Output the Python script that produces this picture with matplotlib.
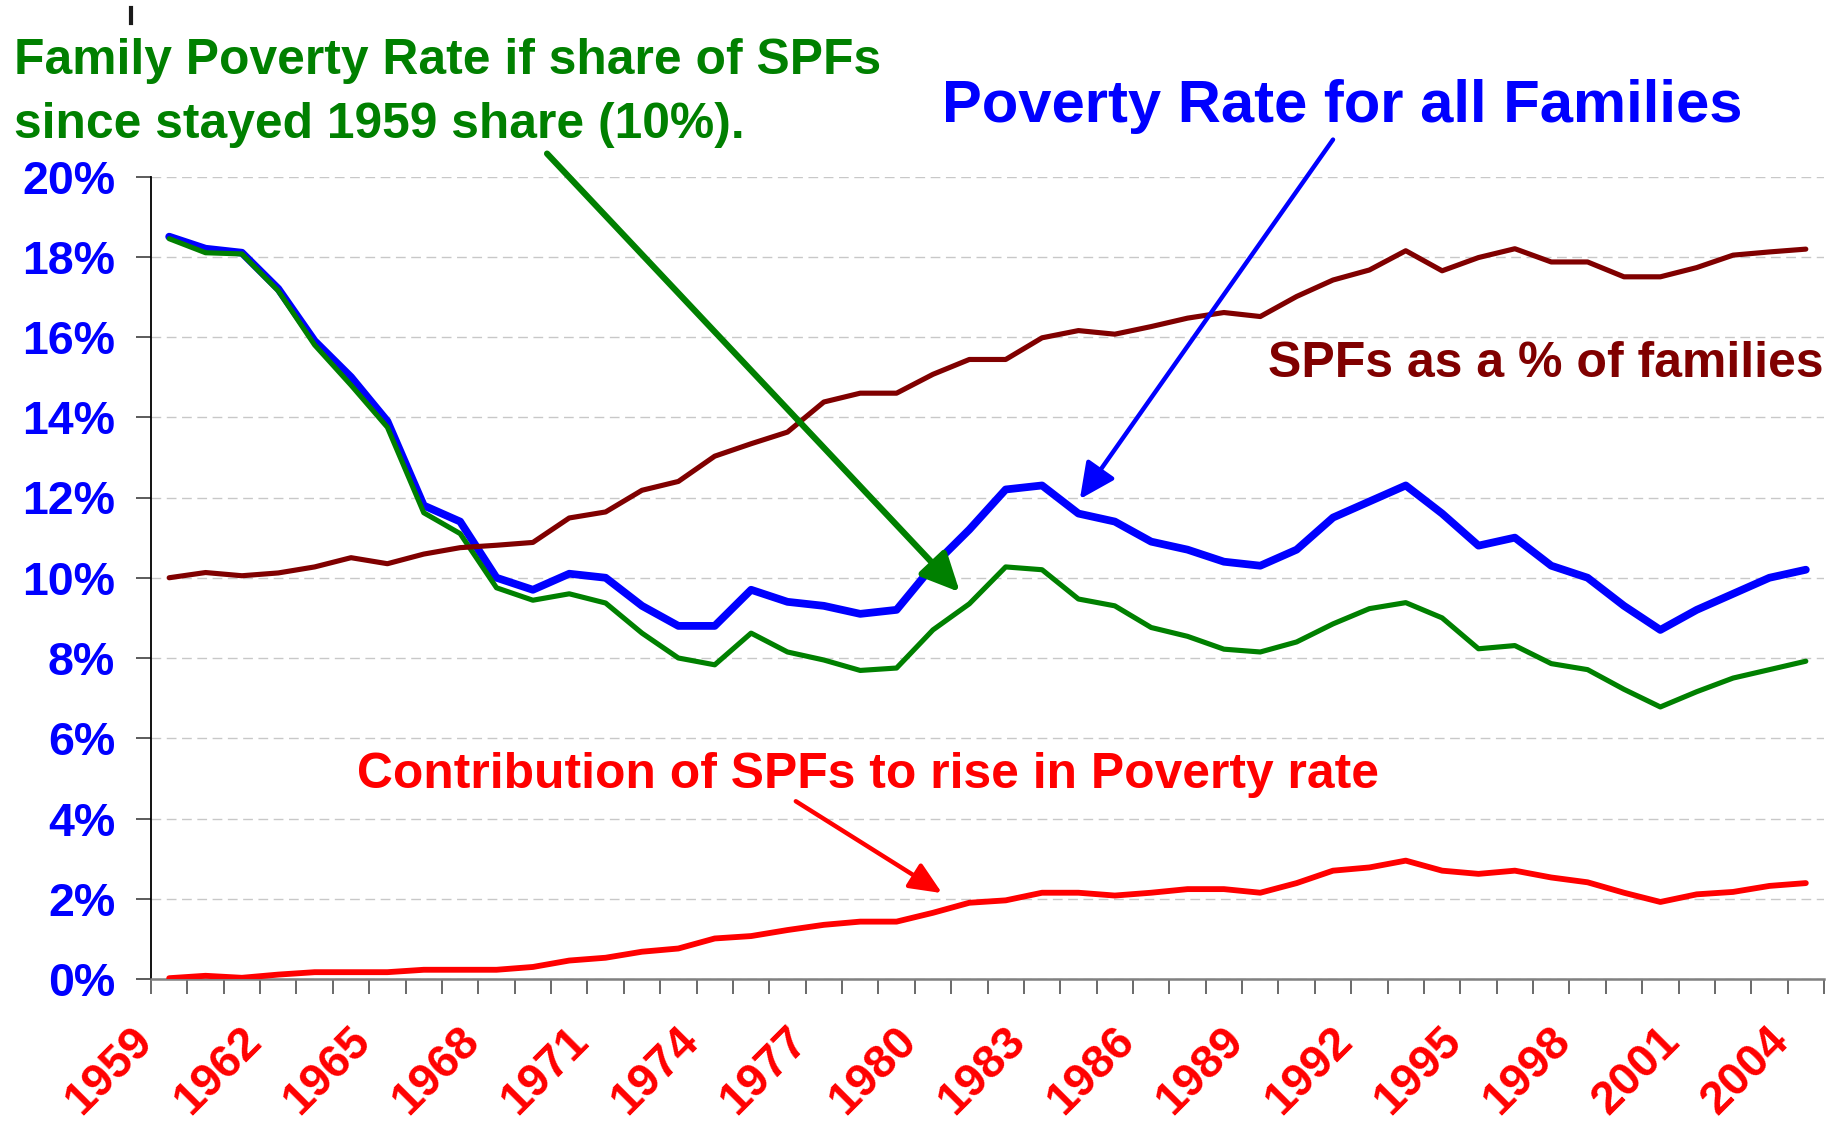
import matplotlib
matplotlib.use('Agg')
import matplotlib.pyplot as plt
import matplotlib.transforms as mtransforms
import numpy as np
from matplotlib.lines import Line2D

# 数据：1959-2004 家庭贫困率 (%)
years = list(range(1959, 2005))
all_families = [18.5, 18.2, 18.1, 17.2, 15.9, 15.0, 13.9, 11.8, 11.4, 10.0,
                9.7, 10.1, 10.0, 9.3, 8.8, 8.8, 9.7, 9.4, 9.3, 9.1,
                9.2, 10.3, 11.2, 12.2, 12.3, 11.6, 11.4, 10.9, 10.7, 10.4,
                10.3, 10.7, 11.5, 11.9, 12.3, 11.6, 10.8, 11.0, 10.3, 10.0,
                9.3, 8.7, 9.2, 9.6, 10.0, 10.2]
if_1959_share = [18.45, 18.1, 18.07, 17.15, 15.8, 14.8, 13.75, 11.62, 11.1, 9.75,
                 9.44, 9.6, 9.37, 8.62, 8.0, 7.83, 8.62, 8.15, 7.95, 7.69,
                 7.75, 8.7, 9.35, 10.27, 10.2, 9.47, 9.3, 8.76, 8.54, 8.22,
                 8.15, 8.4, 8.85, 9.23, 9.38, 9.0, 8.23, 8.31, 7.86, 7.71,
                 7.22, 6.78, 7.16, 7.5, 7.71, 7.92]
spf_share = [10.0, 10.13, 10.05, 10.12, 10.27, 10.5, 10.35, 10.59, 10.75, 10.81,
             10.88, 11.49, 11.64, 12.18, 12.4, 13.03, 13.34, 13.63, 14.38, 14.6,
             14.6, 15.07, 15.44, 15.44, 15.98, 16.16, 16.07, 16.26, 16.47, 16.61,
             16.51, 17.01, 17.42, 17.67, 18.15, 17.65, 17.98, 18.2, 17.87, 17.87,
             17.5, 17.5, 17.73, 18.04, 18.12, 18.19]
spf_contribution = [0.02, 0.08, 0.03, 0.11, 0.17, 0.17, 0.17, 0.23, 0.23, 0.23,
                    0.30, 0.46, 0.53, 0.68, 0.76, 1.01, 1.07, 1.22, 1.35, 1.43,
                    1.43, 1.65, 1.9, 1.96, 2.15, 2.15, 2.08, 2.15, 2.24, 2.24,
                    2.15, 2.39, 2.7, 2.78, 2.95, 2.7, 2.62, 2.7, 2.53, 2.41,
                    2.15, 1.92, 2.11, 2.17, 2.32, 2.39]
year_labels = [str(y) for y in years[::3]]
pct_ticks = list(range(0, 21, 2))

BLUE, GREEN, BROWN, RED = '#0000FF', '#008000', '#800000', '#FF0000'
W, H = 1845, 1133

plt.rcParams['font.family'] = ['Liberation Sans', 'DejaVu Sans']
plt.rcParams['font.weight'] = 'bold'

fig = plt.figure(figsize=(W / 100, H / 100), dpi=100)
ax = fig.add_axes([151 / W, 1 - 979 / H, (1824 - 151) / W, (979 - 176.5) / H])

style = dict(solid_joinstyle='round', solid_capstyle='round')
ax.plot(years, all_families, color=BLUE, lw=5.6, zorder=3, **style)
ax.plot(years, if_1959_share, color=GREEN, lw=3.7, zorder=4, **style)
ax.plot(years, spf_share, color=BROWN, lw=3.7, zorder=5, **style)
ax.plot(years, spf_contribution, color=RED, lw=4.2, zorder=5, **style)

ax.set_xlim(1958.5, 2004.5)
ax.set_ylim(0, 20)

# 网格线
ax.yaxis.grid(True, color='#C8C8C8', lw=1, linestyle=(0, (7, 4)), zorder=0)
ax.set_axisbelow(True)

for s in ['top', 'right']:
    ax.spines[s].set_visible(False)
ax.spines['left'].set_color('black')
ax.spines['left'].set_linewidth(1.3)
ax.spines['bottom'].set_color('#808080')
ax.spines['bottom'].set_linewidth(1.8)

ax.set_yticks(pct_ticks)
ax.set_yticklabels([f'{v}%' for v in pct_ticks])
ax.tick_params(axis='y', direction='out', length=10.8, width=1.2, color='#404040',
               pad=15, labelsize=33.5, labelcolor=BLUE)

ax.set_xticks(years[::3])
ax.set_xticklabels(year_labels, rotation=45, ha='right', va='baseline',
                   rotation_mode='anchor', color=RED, fontsize=33.5, fontweight='bold')
ax.tick_params(axis='x', which='major', length=0, pad=46)
ax.set_xticks(np.arange(1958.5, 2005, 1), minor=True)
ax.tick_params(axis='x', which='minor', direction='out', length=10.8, width=1.2,
               color='#505050')
shift = mtransforms.ScaledTranslation(-15 / 100, 0, fig.dpi_scale_trans)
for lab in ax.get_xticklabels():
    lab.set_transform(lab.get_transform() + shift)


def ftext(px, py, s, **kw):
    fig.text(px / W, 1 - py / H, s, fontweight='bold', va='baseline', **kw)


ftext(14, 74, 'Family Poverty Rate if share of SPFs', color=GREEN, fontsize=35.8)
ftext(14, 138, 'since stayed 1959 share (10%).', color=GREEN, fontsize=35.8)
ftext(942, 122, 'Poverty Rate for all Families', color=BLUE, fontsize=43)
ftext(1268, 377, 'SPFs as a % of families', color=BROWN, fontsize=36)
ftext(357, 788, 'Contribution of SPFs to rise in Poverty rate', color=RED, fontsize=35.8)

# 箭头
def arrow(start, tip, color, lw, hl, hw, ms):
    ax.annotate('', xy=tip, xytext=start, annotation_clip=False,
                arrowprops=dict(arrowstyle=f'-|>,head_length={hl},head_width={hw}',
                                color=color, lw=lw, mutation_scale=ms,
                                shrinkA=0, shrinkB=0), zorder=6)


arrow((1969.39, 20.57), (1980.74, 9.64), GREEN, 4.5, 0.8, 0.38, 29)
arrow((1991.0, 20.92), (1984.04, 11.96), BLUE, 3.2, 0.75, 0.36, 29)
arrow((1976.23, 4.43), (1980.25, 2.14), RED, 3.2, 0.75, 0.33, 26)

fig.add_artist(Line2D([131 / W, 131 / W], [1 - 8 / H, 1 - 23 / H], color='#1a1a1a', lw=3))

fig.savefig('out.png', dpi=100, facecolor='white')
